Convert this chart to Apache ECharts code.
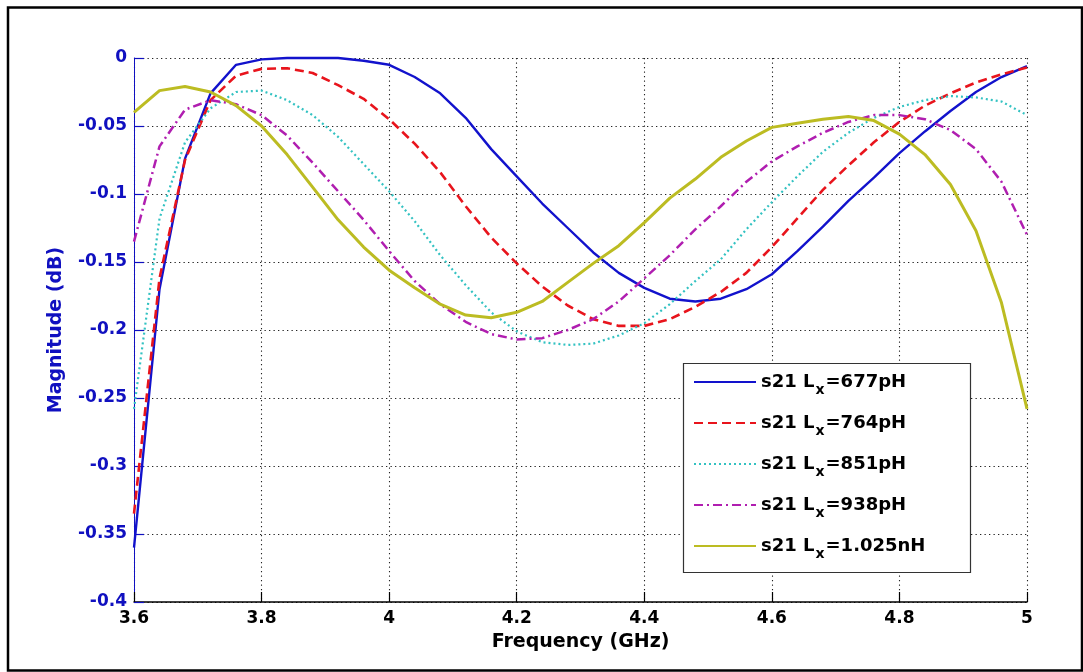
<!DOCTYPE html>
<html>
<head>
<meta charset="utf-8">
<script src="https://cdn.jsdelivr.net/npm/echarts@6/dist/echarts.min.js"></script>
<style>
  html, body { margin: 0; padding: 0; background: #fff; }
  #chart { width: 1083px; height: 672px; }
</style>
</head>
<body>
<div id="chart"></div>
<script>
// Frequency sweep (GHz)
const freqs = [3.60, 3.64, 3.68, 3.72, 3.76, 3.80, 3.84, 3.88, 3.92, 3.96,
               4.00, 4.04, 4.08, 4.12, 4.16, 4.20, 4.24, 4.28, 4.32, 4.36,
               4.40, 4.44, 4.48, 4.52, 4.56, 4.60, 4.64, 4.68, 4.72, 4.76,
               4.80, 4.84, 4.88, 4.92, 4.96, 5.00];

// |S21| in dB for each inductance value
const s21_677pH = [-0.360, -0.170, -0.074, -0.026, -0.005, -0.001, 0, 0, 0, -0.002,
                   -0.005, -0.014, -0.026, -0.044, -0.067, -0.087, -0.107, -0.125, -0.143, -0.158,
                   -0.169, -0.177, -0.179, -0.177, -0.170, -0.159, -0.142, -0.124, -0.105, -0.088,
                   -0.070, -0.054, -0.039, -0.025, -0.014, -0.006];
const s21_764pH = [-0.335, -0.162, -0.075, -0.031, -0.013, -0.008, -0.0075, -0.011, -0.020, -0.030,
                   -0.045, -0.063, -0.084, -0.109, -0.132, -0.151, -0.168, -0.182, -0.192, -0.197,
                   -0.197, -0.192, -0.183, -0.172, -0.158, -0.139, -0.118, -0.097, -0.079, -0.062,
                   -0.047, -0.035, -0.026, -0.018, -0.012, -0.007];
const s21_851pH = [-0.258, -0.118, -0.062, -0.037, -0.025, -0.024, -0.031, -0.042, -0.058, -0.078,
                   -0.098, -0.120, -0.145, -0.167, -0.187, -0.201, -0.209, -0.211, -0.210, -0.204,
                   -0.195, -0.181, -0.164, -0.148, -0.126, -0.106, -0.087, -0.069, -0.055, -0.044,
                   -0.036, -0.031, -0.028, -0.029, -0.032, -0.042];
const s21_938pH = [-0.135, -0.065, -0.038, -0.031, -0.034, -0.042, -0.057, -0.077, -0.098, -0.119,
                   -0.142, -0.164, -0.181, -0.194, -0.203, -0.207, -0.206, -0.200, -0.192, -0.179,
                   -0.162, -0.145, -0.126, -0.109, -0.091, -0.076, -0.065, -0.055, -0.047, -0.042,
                   -0.042, -0.045, -0.053, -0.067, -0.091, -0.130];
const s21_1025nH = [-0.040, -0.024, -0.021, -0.025, -0.035, -0.050, -0.071, -0.095, -0.119, -0.139,
                    -0.156, -0.169, -0.181, -0.189, -0.191, -0.187, -0.179, -0.165, -0.151, -0.138,
                    -0.121, -0.103, -0.089, -0.073, -0.061, -0.051, -0.048, -0.045, -0.043, -0.046,
                    -0.056, -0.071, -0.093, -0.127, -0.180, -0.258];

// Legend labels (inductance part after "s21 Lx=")
const lxLabels = ['677pH', '764pH', '851pH', '938pH', '1.025nH'];

const FONT = 'DejaVu Sans';
const AXIS_BLUE = '#1010c0';

function pairs(ys) {
  return freqs.map((f, i) => [f, ys[i]]);
}

const styles = [
  { color: '#1212cc', width: 2.4, type: 'solid' },
  { color: '#e8141c', width: 2.6, type: [9, 5] },
  { color: '#33c2c2', width: 2.2, type: [2, 3] },
  { color: '#b01eb0', width: 2.5, type: [9, 4, 2, 4] },
  { color: '#bcbc22', width: 3, type: 'solid' }
];
const values = [s21_677pH, s21_764pH, s21_851pH, s21_938pH, s21_1025nH];

const series = lxLabels.map((lab, i) => ({
  name: lab,
  type: 'line',
  data: pairs(values[i]),
  symbol: 'none',
  clip: false,
  smooth: false,
  color: styles[i].color,
  lineStyle: { color: styles[i].color, width: styles[i].width, type: styles[i].type },
  z: 2 + i * 0.01
}));

const chart = echarts.init(document.getElementById('chart'), null, { renderer: 'canvas' });

chart.setOption({
  backgroundColor: '#ffffff',
  animation: false,
  grid: { left: 134, right: 56, top: 58, bottom: 70, containLabel: false },
  xAxis: {
    type: 'value',
    min: 3.6, max: 5, interval: 0.2,
    name: 'Frequency (GHz)',
    nameLocation: 'middle',
    nameGap: 31,
    nameTextStyle: { fontFamily: FONT, fontWeight: 'bold', fontSize: 19, color: '#000' },
    axisLine: { show: true, onZero: false, lineStyle: { color: '#000', width: 1.5 } },
    axisTick: { show: true, inside: true, length: 10, lineStyle: { color: '#000', width: 1.2 } },
    axisLabel: { margin: 8, fontFamily: FONT, fontWeight: 'bold', fontSize: 17, color: '#000' },
    splitLine: { show: true, lineStyle: { color: '#222', width: 1.1, type: [1.3, 3.2] } }
  },
  yAxis: {
    type: 'value',
    min: -0.4, max: 0, interval: 0.05,
    name: 'Magnitude (dB)',
    nameLocation: 'middle',
    nameGap: 68,
    nameRotate: 90,
    nameTextStyle: { fontFamily: FONT, fontWeight: 'bold', fontSize: 19, color: AXIS_BLUE },
    axisLine: { show: true, onZero: false, lineStyle: { color: AXIS_BLUE, width: 1 } },
    axisTick: { show: true, inside: true, length: 10, lineStyle: { color: AXIS_BLUE, width: 1.2 } },
    axisLabel: { margin: 7, fontFamily: FONT, fontWeight: 'bold', fontSize: 17, color: AXIS_BLUE },
    splitLine: { show: true, lineStyle: { color: '#222', width: 1.1, type: [1.3, 3.2] } }
  },
  legend: {
    orient: 'vertical',
    left: 693,
    top: 373,
    padding: 0,
    itemWidth: 62,
    itemHeight: 14,
    itemGap: 17,
    selectedMode: false,
    data: lxLabels,
    itemStyle: { opacity: 0 },
    formatter: name => '{a|s21 L}{sub|x}{a|=' + name + '}',
    textStyle: {
      rich: {
        a: { fontFamily: FONT, fontWeight: 'bold', fontSize: 18, color: '#000', lineHeight: 30, verticalAlign: 'middle' },
        sub: { fontFamily: FONT, fontWeight: 'bold', fontSize: 14, color: '#000', lineHeight: 6, verticalAlign: 'bottom', padding: [0, 1, 0, 1] }
      }
    },
    z: 10
  },
  graphic: [
    {
      type: 'rect',
      z: 5,
      shape: { x: 683.5, y: 363.5, width: 287, height: 209 },
      style: { fill: '#fff', stroke: '#333', lineWidth: 1.2 }
    },
    {
      type: 'rect',
      z: 20,
      silent: true,
      shape: { x: 8, y: 7.5, width: 1074, height: 663 },
      style: { fill: 'none', stroke: '#000', lineWidth: 2.5 }
    }
  ],
  series: series
});
</script>
</body>
</html>
